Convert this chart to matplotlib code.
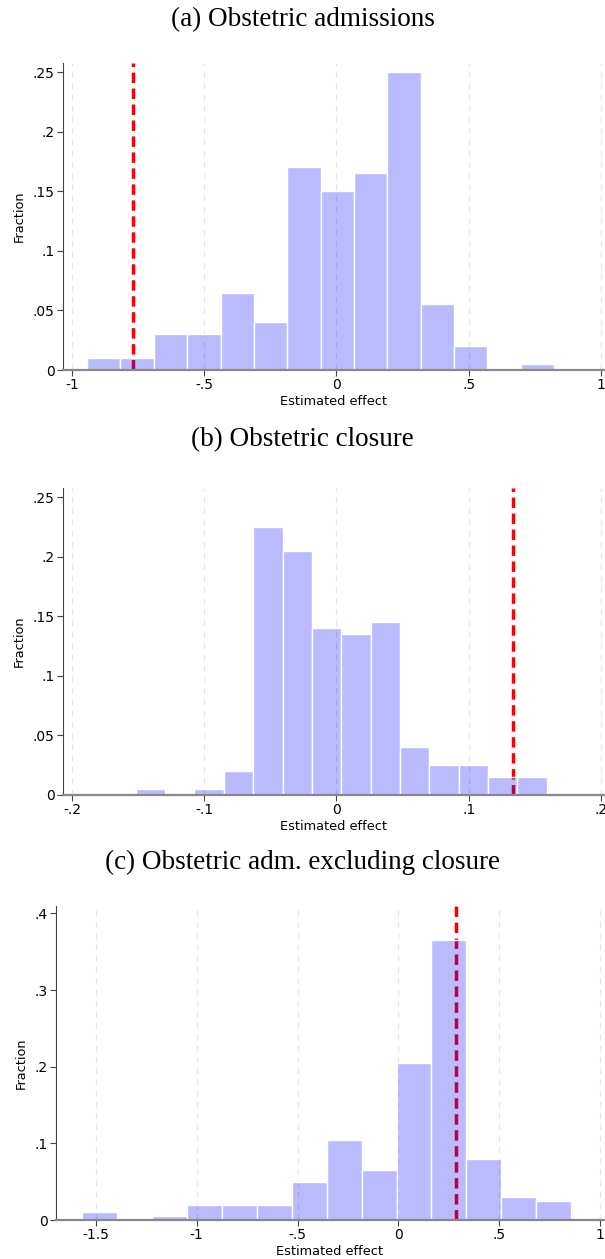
import numpy as np
import matplotlib
matplotlib.use('Agg')
import matplotlib.pyplot as plt
from matplotlib.ticker import FuncFormatter

# panel titles
titles = ['(a) Obstetric admissions', '(b) Obstetric closure',
          '(c) Obstetric adm. excluding closure']

# histogram bins: first edge, bin width, fraction in each bin
bin_start = [-0.943, -0.1518, -1.567]
bin_width = [0.1262, 0.0222, 0.1731]
frac_a = [0.01, 0.01, 0.03, 0.03, 0.065, 0.04, 0.17, 0.15, 0.165, 0.25, 0.055, 0.02, 0.0, 0.005]
frac_b = [0.005, 0.0, 0.005, 0.02, 0.225, 0.205, 0.14, 0.135, 0.145, 0.04, 0.025, 0.025, 0.015, 0.015]
frac_c = [0.01, 0.0, 0.005, 0.02, 0.02, 0.02, 0.05, 0.105, 0.065, 0.205, 0.365, 0.08, 0.03, 0.025]
fractions = [frac_a, frac_b, frac_c]

# actual estimate (red dashed line)
actual = [-0.768, 0.1332, 0.286]

# axis ticks
xticks = [[-1, -0.5, 0, 0.5, 1], [-0.2, -0.1, 0, 0.1, 0.2], [-1.5, -1, -0.5, 0, 0.5, 1]]
yticks = [[0, 0.05, 0.1, 0.15, 0.2, 0.25], [0, 0.05, 0.1, 0.15, 0.2, 0.25], [0, 0.1, 0.2, 0.3, 0.4]]
xlims = [(-1.034, 1.012), (-0.2068, 0.2023), (-1.698, 1.02)]
ylims = [(0, 0.2576), (0, 0.2576), (0, 0.4097)]


def stata_fmt(v, pos):
    # stata style: .25 instead of 0.25
    if abs(v) < 1e-9:
        return '0'
    s = ('%.2f' % v).rstrip('0').rstrip('.')
    s = s.replace('0.', '.')
    return s


W, H = 605, 1259
fig = plt.figure(figsize=(W / 100, H / 100), dpi=100)

# axes boxes in pixels: left, top, right, bottom
boxes = [(63, 63, 604, 370), (63, 488, 604, 795), (56, 906, 604, 1220)]
title_y = [20, 440, 862]

for i in range(3):
    l, t, r, b = boxes[i]
    ax = fig.add_axes([l / W, 1 - b / H, (r - l) / W, (b - t) / H])
    fr = fractions[i]
    edges = bin_start[i] + bin_width[i] * np.arange(len(fr))

    # reference line sits below the transparent bars
    ax.axvline(actual[i], color='red', lw=2.5, ls=(0, (3, 1.6)), zorder=1)
    ax.bar(edges, fr, width=bin_width[i], align='edge', color=(0, 0, 1, 0.27),
           edgecolor='white', linewidth=1, zorder=2)

    for xt in xticks[i]:
        ax.axvline(xt, color='#e6e6e6', lw=0.9, ls=(0, (5, 4)), zorder=0)

    ax.set_xlim(*xlims[i])
    ax.set_ylim(*ylims[i])
    ax.set_xticks(xticks[i])
    ax.set_yticks(yticks[i])
    ax.xaxis.set_major_formatter(FuncFormatter(stata_fmt))
    ax.yaxis.set_major_formatter(FuncFormatter(stata_fmt))
    ax.tick_params(axis='both', labelsize=10, length=4, width=0.8, color='#444444', pad=2)
    ax.spines['top'].set_visible(False)
    ax.spines['right'].set_visible(False)
    ax.spines['left'].set_color('#444444')
    ax.spines['left'].set_linewidth(0.8)
    ax.spines['bottom'].set_color('#888888')
    ax.spines['bottom'].set_linewidth(1.6)
    ax.set_ylabel('Fraction', fontsize=9.3, labelpad=5)
    ax.set_xlabel('Estimated effect', fontsize=9.3, labelpad=2)

    fig.text(0.5, 1 - title_y[i] / H, titles[i], ha='center', va='center',
             family='Liberation Serif', fontsize=19.5)

fig.savefig('out.png', dpi=100)
